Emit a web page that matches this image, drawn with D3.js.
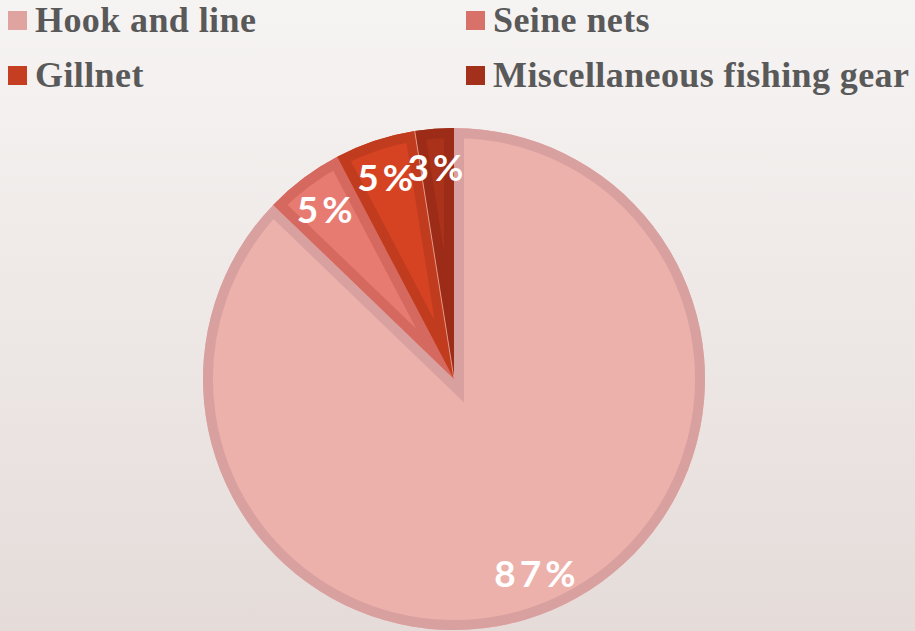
<!DOCTYPE html>
<html>
<head>
<meta charset="utf-8">
<script src="https://d3js.org/d3.v7.min.js"></script>
<style>
  html, body { margin: 0; padding: 0; }
  svg { display: block; }
</style>
</head>
<body>
<svg width="915" height="631"></svg>
<script>
var svg = d3.select("svg"),
    width = +svg.attr("width"),
    height = +svg.attr("height");

// data (share of catch, %)
var gear = ["Hook and line", "Seine nets", "Gillnet", "Miscellaneous fishing gear"];
var shares = [87.2, 5.1, 5.2, 2.5];
var fills = ["#edb1ac", "#e87b71", "#d54322", "#ab321a"];
var borders = ["#d9a0a0", "#d5695f", "#c13b1e", "#9c2c17"];
var swatches = ["#dfa3a0", "#d9716b", "#c63e22", "#a2301a"];

var cx = 454, cy = 379, radius = 251, labelRadius = 212;

// background
var defs = svg.append("defs");
var bg = defs.append("linearGradient")
    .attr("id", "bg")
    .attr("x1", 0).attr("y1", 0).attr("x2", 0).attr("y2", 1);
bg.append("stop").attr("offset", "0%").attr("stop-color", "#f6f4f3");
bg.append("stop").attr("offset", "100%").attr("stop-color", "#e5dcd9");

svg.append("rect")
    .attr("width", width)
    .attr("height", height)
    .attr("fill", "url(#bg)");

// pie
var pie = d3.pie().sort(null).value(d => d);
var arcs = pie(shares);

var arc = d3.arc().innerRadius(0).outerRadius(radius);
var labelArc = d3.arc().innerRadius(labelRadius).outerRadius(labelRadius);

var g = svg.append("g")
    .attr("transform", "translate(" + cx + "," + cy + ")");

// clip each slice so its border only shows on the inside
arcs.forEach(function(d, i) {
  defs.append("clipPath")
      .attr("id", "clip" + i)
      .append("path")
      .attr("d", arc(d));
});

var slices = g.selectAll("g.slice")
    .data(arcs)
    .enter().append("g")
    .attr("class", "slice");

slices.append("path")
    .attr("d", arc)
    .attr("fill", (d, i) => fills[i]);

slices.append("path")
    .attr("d", arc)
    .attr("fill", "none")
    .attr("stroke", (d, i) => borders[i])
    .attr("stroke-width", 20)
    .attr("stroke-linejoin", "miter")
    .attr("stroke-miterlimit", 10)
    .attr("clip-path", (d, i) => "url(#clip" + i + ")");

// light seam between gillnet and misc
var seam = arcs[3].startAngle;
g.append("line")
    .attr("x1", 0).attr("y1", 0)
    .attr("x2", radius * Math.sin(seam))
    .attr("y2", -radius * Math.cos(seam))
    .attr("stroke", "#e39a88")
    .attr("stroke-width", 1);

// percent labels
g.selectAll("text.pct")
    .data(arcs)
    .enter().append("text")
    .attr("class", "pct")
    .attr("transform", d => "translate(" + labelArc.centroid(d) + ")")
    .attr("text-anchor", "middle")
    .attr("dy", "0.36em")
    .attr("fill", "#ffffff")
    .style("font-family", "Lato, 'Open Sans', sans-serif")
    .style("font-weight", "bold")
    .style("font-size", "37px")
    .style("letter-spacing", "4px")
    .text(d => Math.round(d.data) + "%");

// legend
var legendPos = [[8, 32], [466, 32], [8, 87], [466, 87]];

var legend = svg.selectAll("g.legend")
    .data(gear)
    .enter().append("g")
    .attr("class", "legend")
    .attr("transform", (d, i) => "translate(" + legendPos[i][0] + "," + legendPos[i][1] + ")");

legend.append("rect")
    .attr("x", 0)
    .attr("y", -21)
    .attr("width", 19)
    .attr("height", 19)
    .attr("fill", (d, i) => swatches[i]);

legend.append("text")
    .attr("x", 27)
    .attr("y", 0)
    .attr("fill", "#595959")
    .style("font-family", "'Liberation Serif', 'Times New Roman', serif")
    .style("font-weight", "bold")
    .style("font-size", "36px")
    .style("letter-spacing", "0.4px")
    .text(d => d);
</script>
</body>
</html>
